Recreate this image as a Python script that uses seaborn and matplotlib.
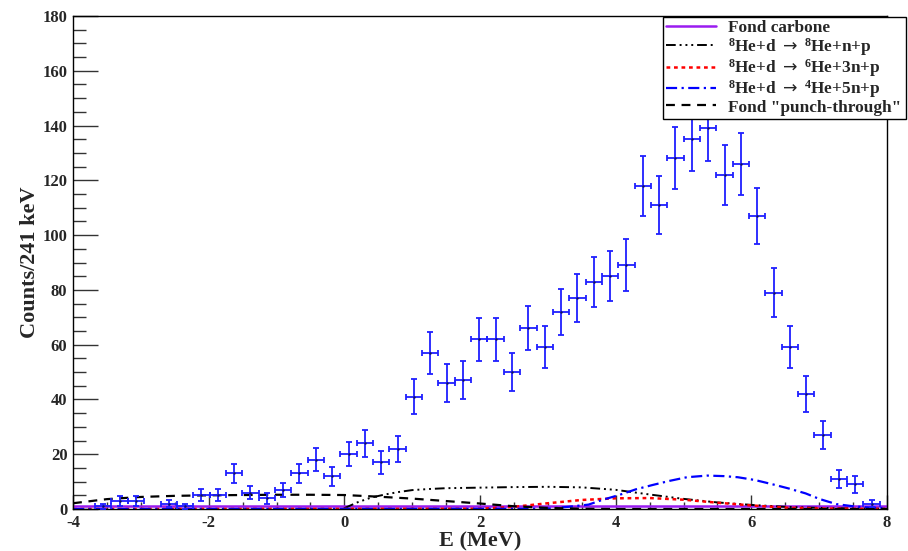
import numpy as np
import matplotlib
matplotlib.use("Agg")
import matplotlib.pyplot as plt
import seaborn as sns

# histogram: 241 keV bins, counts (empty bins not drawn)
bin_lo = -3.915
bin_w = 0.241
counts = [0, 1, 3, 3, 0, 2, 1, 5, 5, 13, 6, 4, 7, 13, 18, 12, 20, 24, 17, 22,
          41, 57, 46, 47, 62, 62, 50, 66, 59, 72, 77, 83, 85, 89, 118, 111, 128,
          135, 139, 122, 126, 107, 79, 59, 42, 27, 11, 9, 2]

# fit components
carb_x = [-4, 8]
carb_y = [1.0, 1.0]

he8_x = [0.0, 0.2, 0.4, 0.6, 0.8, 1.0, 1.25, 1.5, 2.0, 2.5, 3.0, 3.5, 4.0, 4.5,
         5.0, 5.5, 6.0, 6.5, 7.0, 7.5, 8.0]
he8_y = [0.3, 2.5, 4.2, 5.3, 6.2, 6.9, 7.3, 7.6, 7.8, 8.0, 8.1, 7.9, 7.0, 5.3,
         3.7, 2.4, 1.5, 0.8, 0.4, 0.2, 0.1]

he6_x = [-4, 2.0, 2.5, 3.0, 3.5, 4.0, 4.5, 5.0, 5.5, 6.0, 6.5, 7.0, 8.0]
he6_y = [0.0, 0.1, 0.8, 2.1, 3.3, 3.9, 4.0, 3.4, 2.3, 1.3, 0.5, 0.2, 0.0]

he4_x = [-4, 3.0, 3.3, 3.6, 3.8, 4.05, 4.3, 4.55, 4.8, 5.05, 5.35, 5.6, 5.8,
         6.05, 6.3, 6.55, 6.8, 7.0, 7.25, 7.5, 7.75, 8.0]
he4_y = [0.0, 0.1, 0.8, 1.6, 3.3, 5.1, 7.2, 8.8, 10.3, 11.6, 12.2, 12.0, 11.6,
         10.6, 9.1, 7.5, 5.7, 3.7, 1.8, 1.0, 0.5, 0.3]

punch_x = [-4, -3.5, -3, -2.5, -2, -1.5, -1, -0.5, 0, 0.5, 1, 1.5, 2, 2.5,
           3, 3.5, 4, 8]
punch_y = [2.1, 3.6, 4.4, 4.8, 5.0, 5.1, 5.2, 5.2, 5.1, 4.5, 3.8, 2.9, 2.0,
           1.0, 0.4, 0.1, 0.0, 0.0]

labels = ["Fond carbone",
          r"$^{8}$He+d $\mathsf{\rightarrow}$ $^{8}$He+n+p",
          r"$^{8}$He+d $\mathsf{\rightarrow}$ $^{6}$He+3n+p",
          r"$^{8}$He+d $\mathsf{\rightarrow}$ $^{4}$He+5n+p",
          'Fond "punch-through"']

sns.set_theme(style="ticks")
plt.rcParams['font.family'] = ['Liberation Serif', 'DejaVu Sans']
plt.rcParams['font.weight'] = 'bold'
plt.rcParams['axes.unicode_minus'] = False
plt.rcParams['mathtext.fontset'] = 'custom'
plt.rcParams['mathtext.rm'] = 'Liberation Serif:bold'
plt.rcParams['mathtext.bf'] = 'Liberation Serif:bold'
plt.rcParams['mathtext.it'] = 'Liberation Serif:bold'
plt.rcParams['mathtext.sf'] = 'DejaVu Sans:weight=normal'
plt.rcParams['mathtext.default'] = 'bf'

fig = plt.figure(figsize=(9.08, 5.51), dpi=100)
ax = fig.add_axes([73 / 908, 42 / 551, 814 / 908, 493 / 551])

centers = bin_lo + bin_w * (np.arange(len(counts)) + 0.5)
cnt = np.array(counts, dtype=float)
keep = cnt > 0
ax.errorbar(centers[keep], cnt[keep], yerr=np.sqrt(cnt[keep]), xerr=bin_w / 2,
            fmt='none', ecolor='#1f1fff', elinewidth=1.3, capsize=2.2,
            capthick=1.3, zorder=3)
sns.scatterplot(x=centers[keep], y=cnt[keep], ax=ax, color='#101060', s=3,
                linewidth=0, zorder=4)

sns.lineplot(x=carb_x, y=carb_y, ax=ax, color='#9a1cf0', linewidth=1.8,
             label=labels[0])
sns.lineplot(x=he8_x, y=he8_y, ax=ax, color='black', linewidth=1.4,
             linestyle=(0, (5, 2, 1, 2, 1, 2, 1, 2)), label=labels[1])
sns.lineplot(x=he6_x, y=he6_y, ax=ax, color='#ff0000', linewidth=1.8,
             linestyle=(0, (1.5, 1.5)), label=labels[2])
sns.lineplot(x=he4_x, y=he4_y, ax=ax, color='#0000ff', linewidth=1.6,
             linestyle=(0, (5, 2, 1, 2)), label=labels[3])
sns.lineplot(x=punch_x, y=punch_y, ax=ax, color='black', linewidth=1.6,
             linestyle=(0, (4, 3)), label=labels[4])

ax.set_xlim(-4, 8)
ax.set_ylim(0, 180)
ax.set_xticks(np.arange(-4, 9, 2))
ax.set_xticks(np.arange(-4, 8.01, 0.5), minor=True)
ax.set_yticks(np.arange(0, 181, 20))
ax.set_yticks(np.arange(0, 181, 5), minor=True)
ax.tick_params(axis='both', which='both', direction='in', top=False,
               right=False, labelsize=12, width=1, color='#333333')
ax.tick_params(axis='y', which='major', length=18, pad=4)
ax.tick_params(axis='y', which='minor', length=9)
ax.tick_params(axis='x', which='major', length=10, pad=4)
ax.tick_params(axis='x', which='minor', length=5)
for lab in ax.get_xticklabels() + ax.get_yticklabels():
    lab.set_fontweight('bold')
for sp in ax.spines.values():
    sp.set_linewidth(1.0)
    sp.set_color('black')

ax.set_xlabel("E (MeV)", fontsize=16, fontweight='bold')
ax.xaxis.set_label_coords(0.5, -0.045)
ax.set_ylabel("Counts/241 keV", fontsize=16, fontweight='bold', labelpad=2)

ax.legend_.remove()
handles, labs = ax.get_legend_handles_labels()
leg = fig.legend(handles, labs, loc='upper left',
                 bbox_to_anchor=(663 / 908, 1 - 108 / 551, 243 / 908, 91 / 551),
                 mode='expand', fontsize=12.4, frameon=True, fancybox=False,
                 edgecolor='black', framealpha=1, borderaxespad=0,
                 borderpad=0.2, labelspacing=-0.04, handlelength=2.85,
                 handletextpad=0.7)
leg.get_frame().set_linewidth(1.0)

fig.savefig("out.png", dpi=100)
